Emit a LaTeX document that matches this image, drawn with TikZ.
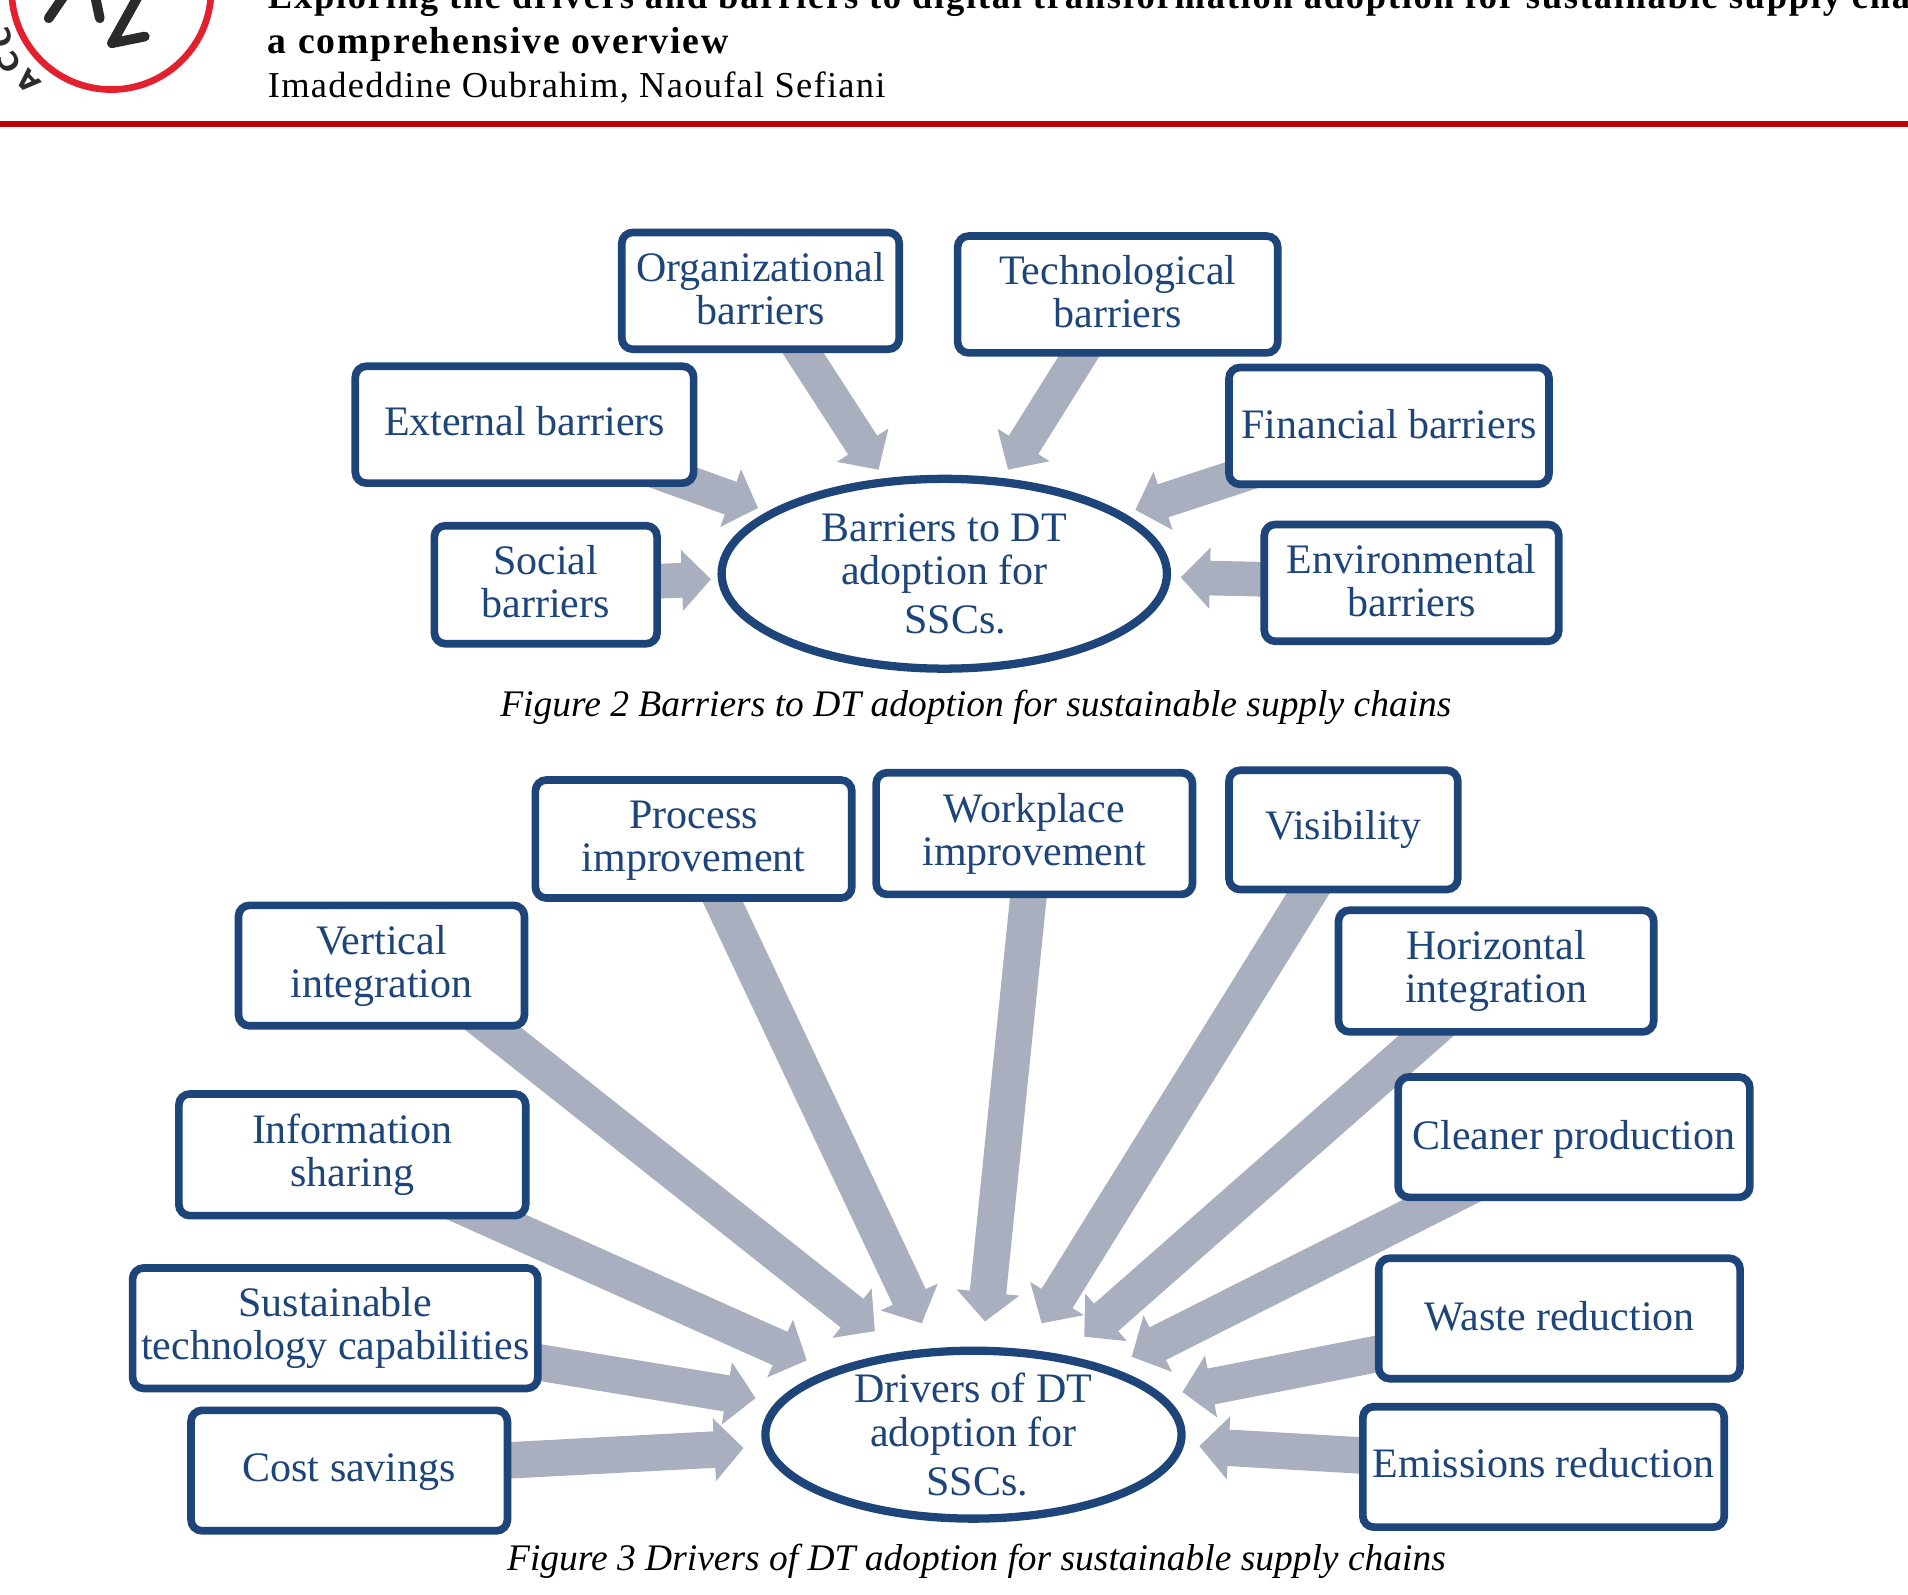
\documentclass[tikz,border=0pt]{standalone}
\usepackage{fontspec}
\setmainfont{Liberation Serif}
\newfontfamily\headfont[LetterSpace=3.4]{Liberation Serif}
\newfontfamily\headboldfont[LetterSpace=4.8]{Liberation Serif}
\newfontfamily\logofont{DejaVu Sans}
\usepackage{tikz}
\usetikzlibrary{arrows.meta,backgrounds,calc,shapes.geometric}

\definecolor{boxblue}{HTML}{1D4579}
\definecolor{arrowgrey}{HTML}{AAAFBF}
\definecolor{rulered}{HTML}{B80505}
\definecolor{logored}{HTML}{E3202E}
\definecolor{logoblack}{HTML}{2B2B2B}

\tikzset{
  barbox/.style={draw=boxblue, line width=6.3pt, rounded corners=9pt, fill=white,
    inner sep=0pt, align=center, text=boxblue,
    font=\fontsize{34.5}{35.5}\selectfont},
  hubell/.style={ellipse, draw=boxblue, line width=6.8pt, fill=white,
    inner xsep=0pt, inner ysep=-6pt, align=center, text=boxblue,
    font=\fontsize{34.5}{36}\selectfont},
  bigarrow/.style={draw=arrowgrey, line width=28.5pt, shorten <=-40pt,
    -{Triangle[length=24pt,width=49pt]}},
  widearrow/.style={draw=arrowgrey, line width=30pt, shorten <=-40pt,
    -{Triangle[length=24pt,width=50.5pt]}},
  capt/.style={anchor=base, font=\fontsize{30.8}{32}\selectfont\itshape},
  headline/.style={anchor=base west, inner sep=0pt, font=\headfont\fontsize{30}{31}\selectfont},
  headbold/.style={anchor=base west, inner sep=0pt, font=\headboldfont\bfseries\fontsize{31}{32}\selectfont},
  logostroke/.style={draw=logoblack, line width=8pt, line cap=round, line join=round},
  logoletter/.style={text=logoblack, inner sep=0pt, font=\logofont\bfseries\fontsize{22}{22}\selectfont},
}

\begin{document}
\begin{tikzpicture}[x=1pt, y=-1pt]
    \useasboundingbox (0,0) rectangle (1568,1310);
    \clip (0,0) rectangle (1568,1310);

    % page header
    \draw[logored, line width=5.5pt] (91.5,-8.4) circle (82);
    \draw[logostroke] (53,-4) -- (40,15);
    \draw[logostroke] (78,-4) -- (82,15);
    \draw[logostroke] (114,-4) -- (92,35.5) -- (119,30);
    \node[logoletter, rotate=133] (la) at (23,67) {A};
    \node[logoletter, rotate=118] (lb) at (8,51) {C};
    \node[logoletter, rotate=105] (lc) at (1,31) {C};

    \node[headbold, font=\headboldfont\bfseries\fontsize{30}{31}\selectfont] (h1) at (220,7) {Exploring the drivers and barriers to digital transformation adoption for sustainable supply chains:};
    \node[headbold] (h2) at (220,44) {a comprehensive overview};
    \node[headline] (h3) at (220,80) {Imadeddine Oubrahim, Naoufal Sefiani};

    \fill[rulered] (0,99.5) rectangle (1568,104.5);

    % barriers
    \node[hubell, minimum width=366pt, minimum height=156pt] (barhub) at (776,471.5)
      {Barriers to DT\\adoption for\\[4pt]\hspace*{18pt}SSCs.};

    \node[barbox, text depth=4pt, minimum width=228pt, minimum height=96pt] (orgbar) at (625,239) {Organizational\\barriers};
    \node[barbox, text depth=5pt, minimum width=263pt, minimum height=96pt] (techbar) at (918.5,242) {Technological\\barriers};
    \node[barbox, text depth=6pt, minimum width=278pt, minimum height=96pt] (extbar) at (431,349) {External barriers};
    \node[barbox, text depth=4pt, minimum width=263pt, minimum height=96pt] (finbar) at (1141.5,350) {Financial barriers};
    \node[barbox, text depth=6pt, minimum width=183pt, minimum height=97pt] (socbar) at (448.5,480.5) {Social\\barriers};
    \node[barbox, text depth=4pt, minimum width=242pt, minimum height=96pt] (envbar) at (1160,479) {Environmental\\barriers};

    \coordinate (orgtip) at (722,386);
    \coordinate (techtip) at (828.4,386);
    \coordinate (exttip) at (623,417.5);
    \coordinate (fintip) at (933,419);
    \coordinate (soctip) at (584.3,476);
    \coordinate (envtip) at (970.3,474.5);

    \begin{scope}[on background layer]
      \draw[bigarrow] ($(orgbar.south)+(35,0)$) -- (orgtip);
      \draw[bigarrow] ($(techbar.south)+(-32,0)$) -- (techtip);
      \draw[bigarrow] ($(extbar.south east)+(-22,-8.5)$) -- (exttip);
      \draw[bigarrow] ($(finbar.south west)+(12.6,-10.4)$) -- (fintip);
      \draw[bigarrow] ($(socbar.east)+(0,-3)$) -- (soctip);
      \draw[bigarrow] ($(envbar.west)+(0,-3)$) -- (envtip);
    \end{scope}

    \node[capt] (cap2) at (802,589) {Figure 2 Barriers to DT adoption for sustainable supply chains};

    % drivers
    \node[hubell, minimum width=342pt, minimum height=138pt] (drvhub) at (800,1179)
      {Drivers of DT\\adoption for\\[4pt]\hspace*{6pt}SSCs.};

    \node[barbox, text height=61pt, minimum width=260pt, minimum height=97pt] (procdrv) at (570,689.5) {Process\\improvement};
    \node[barbox, minimum width=260pt, minimum height=100pt] (workdrv) at (850,685) {Workplace\\improvement};
    \node[barbox, minimum width=188pt, minimum height=98pt] (visdrv) at (1104,682) {Visibility};
    \node[barbox, minimum width=235pt, minimum height=99pt] (vertdrv) at (313.5,793.5) {Vertical\\integration};
    \node[barbox, minimum width=259pt, minimum height=100pt] (horzdrv) at (1229.5,798) {Horizontal\\integration};
    \node[barbox, minimum width=285pt, minimum height=100pt] (infodrv) at (289.5,949) {Information\\sharing};
    \node[barbox, text height=28pt, minimum width=289pt, minimum height=99pt] (cleandrv) at (1293.5,934.5) {Cleaner production};
    \node[barbox, minimum width=333pt, minimum height=99pt] (sustdrv) at (275.5,1091.5) {Sustainable\\technology capabilities};
    \node[barbox, text depth=4pt, minimum width=297pt, minimum height=99pt] (wastedrv) at (1281.5,1083.5) {Waste reduction};
    \node[barbox, text height=26pt, minimum width=260pt, minimum height=99pt] (costdrv) at (287,1208.5) {Cost savings};
    \node[barbox, text depth=6pt, minimum width=297pt, minimum height=99pt] (emisdrv) at (1268.5,1205.5) {Emissions reduction};

    \coordinate (proctip) at (757.5,1087.5);
    \coordinate (worktip) at (809.5,1086);
    \coordinate (vistip) at (856,1087.5);
    \coordinate (verttip) at (719,1094);
    \coordinate (horztip) at (891,1098.5);
    \coordinate (infotip) at (663,1118);
    \coordinate (cleantip) at (930,1115);
    \coordinate (susttip) at (621,1149);
    \coordinate (wastetip) at (971.7,1144);
    \coordinate (costtip) at (611,1190);
    \coordinate (emistip) at (985.6,1188.4);

    \begin{scope}[on background layer]
      \draw[widearrow] ($(procdrv.south)+(24,0)$) -- (proctip);
      \draw[widearrow] ($(workdrv.south)+(-5,0)$) -- (worktip);
      \draw[widearrow] ($(visdrv.south)+(-29,0)$) -- (vistip);
      \draw[widearrow] ($(vertdrv.south east)+(-28,0)$) -- (verttip);
      \draw[widearrow] ($(horzdrv.south)+(-57.5,0)$) -- (horztip);
      \draw[widearrow] ($(infodrv.south east)+(-31,0)$) -- (infotip);
      \draw[widearrow] ($(cleandrv.south west)+(38,0)$) -- (cleantip);
      \draw[widearrow] ($(sustdrv.east)+(0,28.5)$) -- (susttip);
      \draw[widearrow] ($(wastedrv.west)+(0,29.5)$) -- (wastetip);
      \draw[widearrow] ($(costdrv.east)+(0,-8.5)$) -- (costtip);
      \draw[widearrow] ($(emisdrv.west)+(0,-9.5)$) -- (emistip);
    \end{scope}

    \node[capt] (cap3) at (802.5,1291) {Figure 3 Drivers of DT adoption for sustainable supply chains};
\end{tikzpicture}
\end{document}
